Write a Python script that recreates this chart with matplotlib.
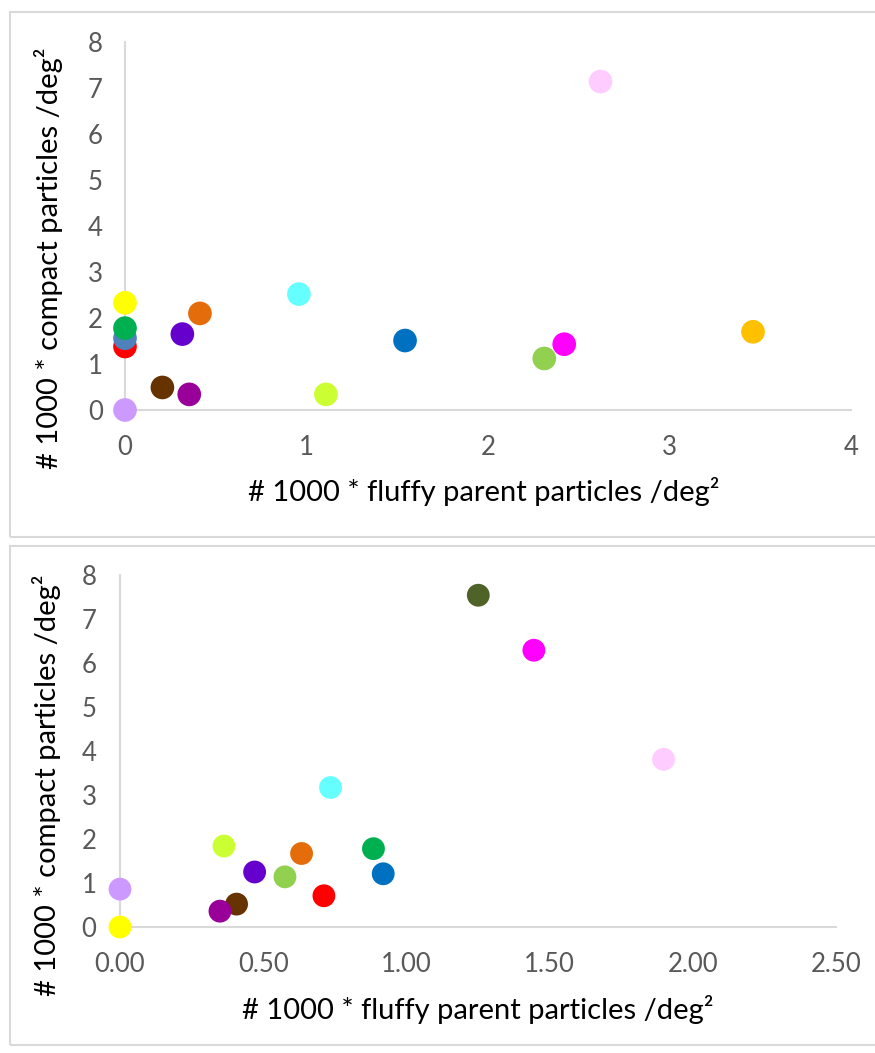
import matplotlib
matplotlib.use("Agg")
import matplotlib.pyplot as plt
from matplotlib.patches import Rectangle

# ---------------------- DATA ----------------------

# top panel
top_x = [0.0, 0.0, 0.0, 0.0, 0.0, 0.206, 0.354, 0.316, 0.413, 0.958,
         1.107, 1.543, 2.31, 2.42, 2.62, 3.46]
top_y = [0.0, 1.38, 1.56, 1.78, 2.33, 0.49, 0.34, 1.65, 2.10, 2.52,
         0.34, 1.51, 1.12, 1.43, 7.14, 1.70]
top_colors = ['#CC99FF', '#FF0000', '#4F81BD', '#00B050', '#FFFF00', '#663300',
              '#990099', '#6600CC', '#E46C0A', '#66FFFF', '#CCFF33', '#0070C0',
              '#92D050', '#FF00FF', '#FFCCFF', '#FFC000']

# bottom panel
bot_x = [0.0, 0.0, 0.407, 0.349, 0.363, 0.47, 0.576, 0.634, 0.712, 0.735,
         0.885, 0.919, 1.251, 1.445, 1.898]
bot_y = [0.86, 0.0, 0.52, 0.36, 1.84, 1.25, 1.14, 1.67, 0.71, 3.17,
         1.78, 1.21, 7.54, 6.29, 3.81]
bot_colors = ['#CC99FF', '#FFFF00', '#663300', '#990099', '#CCFF33', '#6600CC',
              '#92D050', '#E46C0A', '#FF0000', '#66FFFF', '#00B050', '#0070C0',
              '#4F6228', '#FF00FF', '#FFCCFF']

top_xticks = [0, 1, 2, 3, 4]
top_xlabels = ['0', '1', '2', '3', '4']
bot_xticks = [0, 0.5, 1.0, 1.5, 2.0, 2.5]
bot_xlabels = ['0.00', '0.50', '1.00', '1.50', '2.00', '2.50']
yticks = [0, 1, 2, 3, 4, 5, 6, 7, 8]

xlabel = '# 1000 * fluffy parent particles /deg\u00b2'
ylabel = '# 1000 * compact particles /deg\u00b2'

# ---------------------- STYLE ----------------------

plt.rcParams['font.family'] = ['Lato', 'DejaVu Sans']
W, H = 875, 1053
AXIS_GREY = '#D9D9D9'
TICK_GREY = '#595959'
LABEL_SIZE = 21


def style_axes(ax, xticks, xlabels, xpad, ypad):
    for side in ['top', 'right']:
        ax.spines[side].set_visible(False)
    for side in ['left', 'bottom']:
        ax.spines[side].set_color(AXIS_GREY)
        ax.spines[side].set_linewidth(1.5)
    ax.set_xticks(xticks)
    ax.set_xticklabels(xlabels)
    ax.set_yticks(yticks)
    ax.tick_params(axis='both', length=0, labelsize=18.5, labelcolor=TICK_GREY)
    ax.tick_params(axis='x', pad=xpad)
    ax.tick_params(axis='y', pad=ypad)
    ax.set_ylim(0, 8)
    ax.patch.set_alpha(0)


def panel_box(fig, y0, y1):
    # light grey frame around each chart (pixel coords from top)
    rect = Rectangle((10 / W, 1 - y1 / H), 880 / W, (y1 - y0) / H,
                     transform=fig.transFigure, fill=False,
                     edgecolor=AXIS_GREY, linewidth=1.5, clip_on=False)
    fig.patches.append(rect)


# ---------------------- FIGURE ----------------------

fig = plt.figure(figsize=(W / 100, H / 100), dpi=100)
fig.patch.set_facecolor('white')

panel_box(fig, 12, 537)
panel_box(fig, 546, 1045)

ax1 = fig.add_axes([125 / W, 1 - 410 / H, 726 / W, 368 / H])
ax1.scatter(top_x, top_y, s=290, c=top_colors, edgecolors='none',
            clip_on=False, zorder=3)
ax1.set_xlim(0, 4)
style_axes(ax1, top_xticks, top_xlabels, xpad=18, ypad=16)

ax2 = fig.add_axes([120 / W, 1 - 927 / H, 716 / W, 352 / H])
ax2.scatter(bot_x, bot_y, s=270, c=bot_colors, edgecolors='none',
            clip_on=False, zorder=3)
ax2.set_xlim(0, 2.5)
style_axes(ax2, bot_xticks, bot_xlabels, xpad=18, ypad=17)

# axis titles
fig.text(484 / W, 1 - 492 / H, xlabel, ha='center', va='center',
         fontsize=LABEL_SIZE, color='black')
fig.text(49 / W, 1 - 258 / H, ylabel, ha='center', va='center',
         fontsize=LABEL_SIZE, rotation=90, color='black')
fig.text(478 / W, 1 - 1010 / H, xlabel, ha='center', va='center',
         fontsize=LABEL_SIZE, color='black')
fig.text(47 / W, 1 - 785 / H, ylabel, ha='center', va='center',
         fontsize=LABEL_SIZE, rotation=90, color='black')

fig.savefig('out.png', dpi=100)
